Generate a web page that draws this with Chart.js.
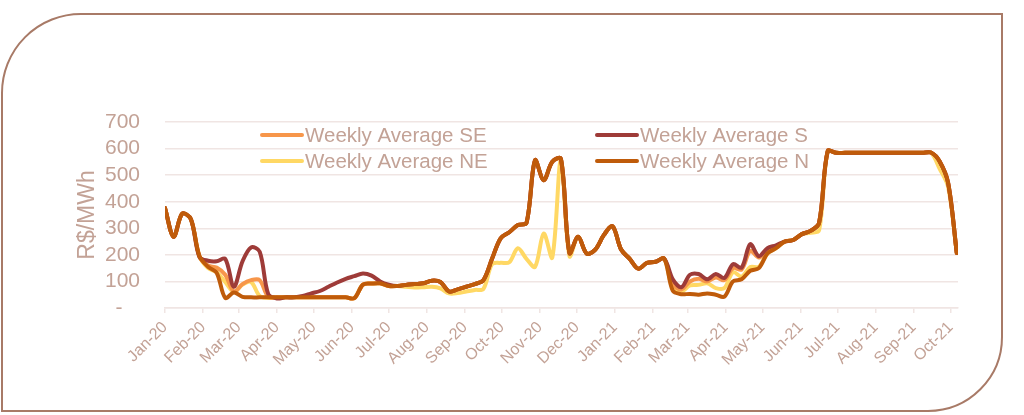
<!DOCTYPE html>
<html>
<head>
<meta charset="utf-8">
<script src="https://cdn.jsdelivr.net/npm/chart.js@4.4.0/dist/chart.umd.min.js"></script>
<style>
  html, body { margin: 0; padding: 0; background: #fff; }
  #wrap { position: relative; width: 1024px; height: 415px; overflow: hidden; }
  #frame {
    position: absolute; left: 1px; top: 13px; width: 1002px; height: 399px;
    box-sizing: border-box; border: 2px solid #a87a67;
    border-radius: 80px 0 75px 0;
  }
  #chart { position: absolute; left: 0; top: 0; }
</style>
</head>
<body>
<div id="wrap">
  <div id="frame"></div>
  <canvas id="chart" width="1024" height="415"></canvas>
</div>
<script>
// day offsets from 1 Jan 2020, one point per week
const days = [
  0, 7, 14, 21, 28, 35, 42, 49, 56, 63, 70, 77, 84, 91, 98, 105, 112, 119, 126, 133,
  140, 147, 154, 161, 168, 175, 182, 189, 196, 203, 210, 217, 224, 231, 238, 245, 252, 259, 266, 273,
  280, 287, 294, 301, 308, 315, 322, 329, 336, 343, 350, 357, 364, 371, 378, 385, 392, 399, 406, 413,
  420, 427, 434, 441, 448, 455, 462, 469, 476, 483, 490, 497, 504, 511, 518, 525, 532, 539, 546, 553,
  560, 567, 574, 581, 588, 595, 602, 609, 616, 623, 630, 637, 644
];

const weeklySE = [
  376, 268, 355, 335, 195, 160, 152, 125, 62, 90, 105, 105, 42, 40, 40, 40, 40, 40, 40, 40,
  40, 40, 37, 88, 92, 93, 83, 83, 87, 90, 93, 103, 98, 62, 70, 80, 90, 105, 185, 262,
  285, 312, 320, 556, 481, 550, 562, 207, 268, 205, 220, 275, 308, 220, 185, 148, 170, 174, 186, 90,
  70, 100, 110, 100, 115, 105, 150, 145, 215, 190, 215, 230, 250, 256, 278, 290, 320, 590, 584, 584,
  584, 584, 584, 584, 584, 584, 584, 584, 584, 585, 552, 470, 207
];

const weeklyS = [
  376, 268, 355, 335, 192, 178, 176, 185, 80, 175, 228, 212, 52, 36, 40, 40, 45, 55, 64, 80,
  96, 110, 120, 130, 122, 100, 88, 83, 87, 90, 93, 103, 98, 62, 70, 80, 90, 105, 185, 262,
  285, 312, 320, 556, 481, 550, 562, 207, 268, 205, 220, 275, 308, 220, 185, 148, 170, 174, 186, 108,
  78, 125, 128, 108, 128, 113, 165, 152, 240, 195, 225, 236, 250, 256, 278, 290, 320, 590, 584, 584,
  584, 584, 584, 584, 584, 584, 584, 584, 584, 585, 552, 470, 207
];

const weeklyNE = [
  376, 268, 355, 335, 195, 150, 135, 98, 60, 88, 98, 45, 38, 40, 40, 40, 40, 40, 40, 40,
  40, 40, 37, 88, 92, 93, 83, 83, 80, 77, 78, 80, 74, 55, 56, 62, 68, 72, 165, 170,
  172, 225, 185, 155, 280, 190, 556, 195, 268, 205, 220, 275, 308, 220, 185, 148, 170, 174, 186, 72,
  62, 85, 87, 93, 75, 75, 135, 118, 154, 155, 205, 225, 250, 256, 278, 283, 292, 590, 584, 584,
  584, 584, 584, 584, 584, 584, 584, 584, 584, 585, 525, 455, 207
];

const weeklyN = [
  376, 268, 355, 335, 195, 155, 133, 38, 58, 42, 40, 40, 40, 40, 40, 40, 40, 40, 40, 40,
  40, 40, 37, 88, 92, 93, 83, 83, 87, 90, 93, 103, 98, 62, 70, 80, 90, 105, 185, 262,
  285, 312, 320, 556, 481, 550, 562, 207, 268, 205, 220, 275, 308, 220, 185, 148, 170, 174, 186, 65,
  52, 53, 50, 55, 50, 43, 100, 108, 140, 150, 205, 225, 250, 256, 278, 290, 320, 590, 584, 584,
  584, 584, 584, 584, 584, 584, 584, 584, 584, 585, 552, 470, 207
];

// month ticks (day offset of the 1st of each month)
const monthDays = [0, 31, 60, 91, 121, 152, 182, 213, 244, 274, 305, 335, 366, 397, 425, 456, 486, 517, 547, 578, 609, 639];
const monthLabels = [
  'Jan-20', 'Feb-20', 'Mar-20', 'Apr-20', 'May-20', 'Jun-20', 'Jul-20', 'Aug-20', 'Sep-20', 'Oct-20', 'Nov-20',
  'Dec-20', 'Jan-21', 'Feb-21', 'Mar-21', 'Apr-21', 'May-21', 'Jun-21', 'Jul-21', 'Aug-21', 'Sep-21', 'Oct-21'
];

const textColor = '#c3a296';
const gridColor = '#f0e5e3';
const fontFamily = '"Liberation Sans", Arial, sans-serif';

const toPoints = (vals) => vals.map((v, i) => ({ x: days[i], y: v }));

const series = (label, vals, color, order) => ({
  label,
  data: toPoints(vals),
  borderColor: color,
  borderWidth: 4,
  pointRadius: 0,
  tension: 0.33,
  borderCapStyle: 'round',
  borderJoinStyle: 'round',
  order,
});

// two-column legend drawn over the top of the plot
const gridLegend = {
  id: 'gridLegend',
  afterDraw(chart) {
    const ctx = chart.ctx;
    const colX = [262, 597];
    const rowY = [135, 161];
    ctx.save();
    ctx.font = '20.5px ' + fontFamily;
    ctx.textBaseline = 'middle';
    chart.data.datasets.forEach((ds, i) => {
      const x = colX[i % 2];
      const y = rowY[Math.floor(i / 2)];
      ctx.strokeStyle = ds.borderColor;
      ctx.lineWidth = 4;
      ctx.lineCap = 'round';
      ctx.beginPath();
      ctx.moveTo(x, y);
      ctx.lineTo(x + 40, y);
      ctx.stroke();
      ctx.fillStyle = textColor;
      ctx.fillText(ds.label, x + 43, y + 1);
    });
    ctx.restore();
  }
};

new Chart(document.getElementById('chart'), {
  type: 'line',
  data: {
    datasets: [
      series('Weekly Average SE', weeklySE, '#f7964a', 2),
      series('Weekly Average S', weeklyS, '#9e3b38', 1),
      series('Weekly Average NE', weeklyNE, '#ffd864', 3),
      series('Weekly Average N', weeklyN, '#bf5b0a', 0),
    ],
  },
  options: {
    responsive: false,
    animation: false,
    layout: { padding: { left: 70, right: 66, top: 122, bottom: 17 } },
    plugins: {
      legend: { display: false },
      tooltip: { enabled: false },
    },
    scales: {
      x: {
        type: 'linear',
        min: 0,
        max: 645,
        afterBuildTicks: (scale) => { scale.ticks = monthDays.map((d) => ({ value: d })); },
        afterFit: (scale) => { scale.height = 90; },
        grid: { drawOnChartArea: false, drawTicks: true, tickLength: 5, color: gridColor, lineWidth: 1.5 },
        border: { display: true, color: gridColor, width: 1.5 },
        ticks: {
          autoSkip: false,
          maxRotation: 45,
          minRotation: 45,
          padding: 5,
          color: textColor,
          font: { family: fontFamily, size: 16 },
          callback: (v) => monthLabels[monthDays.indexOf(v)],
        },
      },
      y: {
        min: 0,
        max: 700,
        afterFit: (scale) => { scale.width = 95; },
        grid: { drawTicks: false, color: gridColor, lineWidth: 1.5 },
        border: { display: false },
        ticks: {
          autoSkip: false,
          stepSize: 100,
          padding: 25,
          color: textColor,
          font: { family: fontFamily, size: 21 },
          callback: (v) => (v === 0 ? '-   ' : v),
        },
        title: {
          display: true,
          text: 'R$/MWh',
          color: textColor,
          font: { family: fontFamily, size: 23 },
          padding: { top: 4, bottom: 4 },
        },
      },
    },
  },
  plugins: [gridLegend],
});
</script>
</body>
</html>
